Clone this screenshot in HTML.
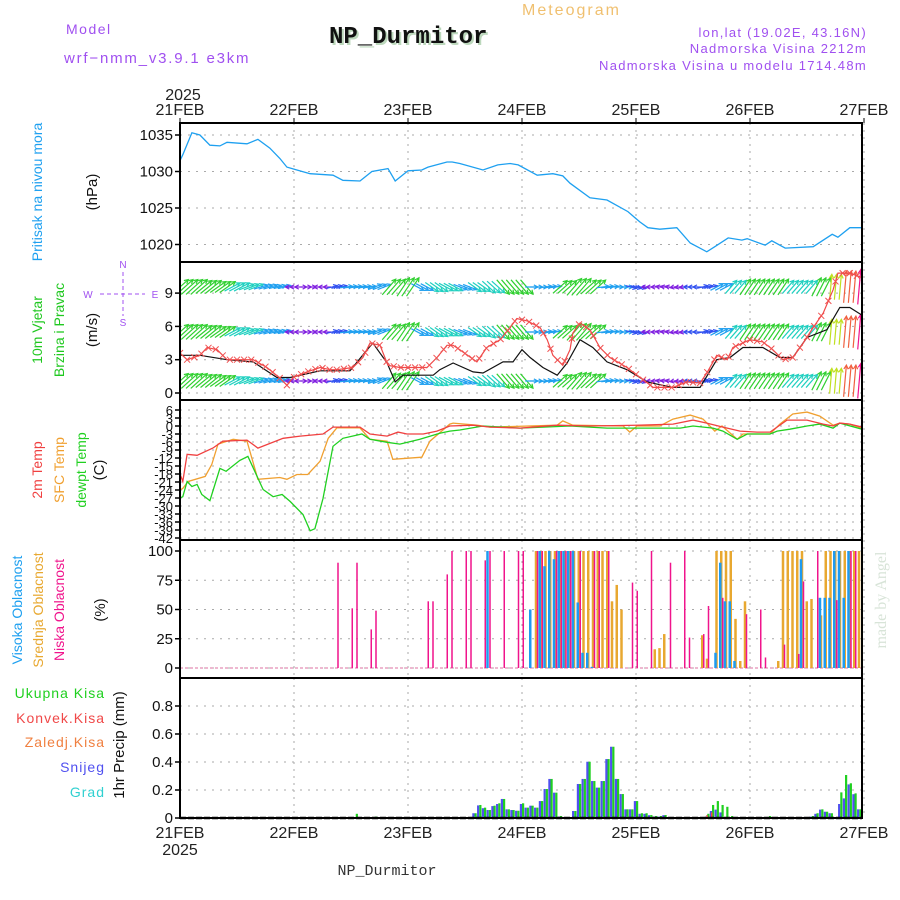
<!DOCTYPE html>
<html><head><meta charset="utf-8"><style>
html,body{margin:0;padding:0;background:#fff;}
svg{display:block;font-family:"Liberation Sans",sans-serif;}
</style></head><body>
<svg id="chart" width="900" height="900" viewBox="0 0 900 900" xmlns="http://www.w3.org/2000/svg">
<text x="66" y="34" font-size="14" fill="#a050f0" letter-spacing="1.5">Model</text>
<text x="64" y="63" font-size="15" fill="#a050f0" letter-spacing="1.8">wrf−nmm_v3.9.1 e3km</text>
<text x="522" y="15" font-size="16" fill="#f0c070" letter-spacing="2">Meteogram</text>
<text x="331" y="45" font-size="24" font-weight="bold" fill="#bcd8bc" font-family="Liberation Mono, monospace">NP_Durmitor</text>
<text x="329" y="43" font-size="24" font-weight="bold" fill="#111" font-family="Liberation Mono, monospace">NP_Durmitor</text>
<text x="867" y="37" font-size="13" fill="#a050f0" text-anchor="end" letter-spacing="1.3">lon,lat (19.02E, 43.16N)</text>
<text x="867" y="53" font-size="13" fill="#a050f0" text-anchor="end" letter-spacing="1.3">Nadmorska Visina 2212m</text>
<text x="867" y="70" font-size="13" fill="#a050f0" text-anchor="end" letter-spacing="1.3">Nadmorska Visina u modelu 1714.48m</text>
<text x="183" y="100" font-size="16" fill="#222" text-anchor="middle">2025</text>
<text x="180" y="855" font-size="16" fill="#222" text-anchor="middle">2025</text>
<text x="387" y="875" font-size="15" fill="#333" text-anchor="middle" font-family="Liberation Mono, monospace">NP_Durmitor</text>
<text transform="translate(886,600) rotate(-90)" font-size="16" fill="#d8e4d8" text-anchor="middle" font-family="Liberation Serif, serif">made by Angel</text>

<text transform="translate(42,192) rotate(-90)" font-size="14" fill="#1ea0f0" text-anchor="middle">Pritisak na nivou mora</text>
<text transform="translate(97,192) rotate(-90)" font-size="15" fill="#111" text-anchor="middle">(hPa)</text>
<text transform="translate(42,330) rotate(-90)" font-size="14" fill="#20c820" text-anchor="middle">10m Vjetar</text>
<text transform="translate(64,330) rotate(-90)" font-size="14" fill="#20c820" text-anchor="middle">Brzina i Pravac</text>
<text transform="translate(97,330) rotate(-90)" font-size="15" fill="#111" text-anchor="middle">(m/s)</text>
<g fill="#a050f0" font-size="10" text-anchor="middle">
<text x="123" y="268">N</text><text x="123" y="326">S</text><text x="88" y="298">W</text><text x="155" y="298">E</text>
<line x1="100" y1="294" x2="145" y2="294" stroke="#a050f0" stroke-dasharray="4,3"/><line x1="123" y1="272" x2="123" y2="316" stroke="#a050f0" stroke-dasharray="4,3"/>
</g>
<text transform="translate(42,470) rotate(-90)" font-size="14" fill="#f04040" text-anchor="middle">2m Temp</text>
<text transform="translate(64,470) rotate(-90)" font-size="14" fill="#f0a030" text-anchor="middle">SFC Temp</text>
<text transform="translate(86,470) rotate(-90)" font-size="14" fill="#20d020" text-anchor="middle">dewpt Temp</text>
<text transform="translate(104,470) rotate(-90)" font-size="15" fill="#111" text-anchor="middle">(C)</text>
<text transform="translate(22,610) rotate(-90)" font-size="14" fill="#1ea0f0" text-anchor="middle">Visoka Oblacnost</text>
<text transform="translate(43,610) rotate(-90)" font-size="14" fill="#e8a830" text-anchor="middle">Srednja Oblacnost</text>
<text transform="translate(64,610) rotate(-90)" font-size="14" fill="#f0148c" text-anchor="middle">Niska Oblacnost</text>
<text transform="translate(105,610) rotate(-90)" font-size="15" fill="#111" text-anchor="middle">(%)</text>
<g font-size="14" text-anchor="end" letter-spacing="1">
<text x="105" y="698" fill="#20d020">Ukupna  Kisa</text>
<text x="105" y="723" fill="#f04848">Konvek.Kisa</text>
<text x="105" y="747" fill="#f08040">Zaledj.Kisa</text>
<text x="105" y="772" fill="#5050f0">Snijeg</text>
<text x="105" y="797" fill="#30d0d0">Grad</text>
</g>
<text transform="translate(124,745) rotate(-90)" font-size="15" fill="#111" text-anchor="middle">1hr Precip (mm)</text>
<g id="plots"></g>
</svg>
<script>
// ---- data ----
const dayLabels = ["21FEB","22FEB","23FEB","24FEB","25FEB","26FEB","27FEB"];
const presHours = [0,0.6,2.5,4.2,6.3,8.4,9.9,14.1,16.4,18.9,21,22.5,24.6,27.4,32.2,34.3,37.9,40.4,43.8,45.3,48,50.9,52.2,56.2,57.3,58.9,63.8,66.9,69.5,71.2,75.2,78.5,80.6,82.1,86.3,89.9,94.3,96.8,98.5,101,104.6,107.4,110.9,112.6,115.4,118.3,119.4,123.2,124.6,127.4,133.3,137.3,138.5,141,143.6];
const presVals = [1031.5,1032.3,1035.3,1035,1033.6,1033.5,1034,1033.8,1034.4,1033.2,1031.8,1030.6,1030.2,1029.7,1029.5,1028.8,1028.7,1030,1030.4,1028.7,1030.1,1030.2,1030.6,1031.3,1031.3,1031.1,1030.2,1030.9,1031.1,1030.9,1029.5,1029.7,1029.4,1028.4,1026.4,1026.1,1024.5,1023.1,1022.3,1022.1,1022.3,1020.2,1019,1019.7,1020.9,1020.6,1020.8,1019.9,1020.5,1019.5,1019.7,1021.4,1021,1022.3,1022.3];
const presTicks = [1035,1030,1025,1020];

const gustHours = [0,1.5,4.2,5.7,7.8,9.9,15.4,18.3,21,22.5,23.8,26.7,29.5,31.6,33,36.4,38.5,40,42.1,43.8,46.3,52,54.1,56.2,57.5,58.9,62.5,64.6,67.4,69.5,70.9,73.1,75.8,77.3,78.5,80.6,82.1,82.7,84.2,86.3,88.4,90.5,94.1,97.5,99.6,103.8,106.7,109.5,110.9,113,115.2,116.4,120,122.7,124.8,126.9,129,131.2,133.3,135.4,137.5,138.5,141,143.6];
const gustVals = [3.6,3,3.4,4.1,3.9,3,3,2.3,1.35,0.7,1.4,1.9,2.3,2.1,2.1,2.3,3.2,4.5,4.3,2.5,2.3,2.3,3.2,4.3,4.3,3.9,2.8,4.1,4.8,5.9,6.7,6.5,5.9,4.8,3.4,2.5,3.9,5.4,6.3,5.7,4.1,3.2,2.3,1.2,0.5,0.5,1,0.9,1.8,3.4,3,4.1,4.8,4.6,3.9,3,3.2,4.5,5.9,7.2,9.3,10.8,10.8,10.4];
const speedHours = [0,4.2,9.9,15.4,20.4,23.2,29.5,35.8,39.4,40.6,43.6,45.3,46.9,53.3,54.7,57.5,61.7,63.8,68,70.1,72,73.7,76.4,79.4,81.5,84.2,86.9,89.9,94.1,98.3,103.8,109.5,113,115.8,118.5,122.7,126.3,129,132,136.2,138.9,141,143.6];
const speedVals = [3.4,3.4,3.0,2.8,1.4,1.4,2.0,2.0,3.9,4.5,2.7,1.0,1.6,1.6,2.1,2.7,1.9,1.8,2.8,2.8,3.9,3.2,2.3,1.6,2.7,4.8,4.1,2.8,2.1,1.0,0.5,0.5,3.0,3.2,4.1,4.1,3.2,3.2,5.0,5.7,7.7,7.7,7.0];
const windTicks = [9,6,3,0];
// wind arrows every 3 h: speed (m/s) and arrow angle (deg, 0 = towards east, 90 = towards north)
const arrowSpeed = [6,6,5.5,5,4.5,4,3.5,3,1.5,1,1.5,2.5,3,3,3.5,5.5,6,3.5,4,4,3.5,4,4.5,5,5,3,3,5,6,5.5,3,3,2.5,1.5,1.5,1.5,2,2.5,3.5,4.5,5,5,5,4.5,4.5,5.5,7,9,10];
const arrowAngle = [30,30,28,25,20,15,12,10,180,0,180,10,5,5,15,35,40,-20,-25,-20,-15,-25,-30,-35,-35,0,5,30,35,30,5,0,-10,180,170,190,180,10,20,35,40,40,40,35,35,45,70,80,80];

const t2Hours = [0,0.6,1.5,3.6,6.9,9,14.1,16.4,21.7,25.3,30.1,32.2,37.9,40,43.6,45.9,47.8,51.2,54.1,56.8,61.7,65.3,71.6,79.4,86.3,96.8,103.8,108,110.9,114.3,117.9,121.5,124.2,127.8,132,135.4,137.5,138.9,141,143.6];
const t2Vals = [-18,-20.8,-10.6,-11,-8.3,-5.7,-5.3,-8.3,-4.6,-3.8,-3,-0.4,-0.4,-3,-3.8,-2.3,-3,-3,-1.9,0,0.3,-0.4,-0.8,0.3,0,0.3,0.7,2.2,1.1,-0.4,-1.9,-2.3,-2.3,2.2,2.2,0.7,0,1.1,0.7,-0.4];
const sfcHours = [0,0.6,1.7,5.3,6.7,8,11.2,14.1,16.4,21,22.5,24.6,26.9,29.5,31.2,33,37.9,40,43.6,44.8,50.9,52.6,56.8,57.5,62.5,65.3,79.4,80.6,82.7,93.3,94.7,96.2,101,103.8,107.4,110.1,112.6,114.1,117.3,118.5,124.2,126.3,129,132,134.7,137.5,138.9,141,143.6];
const sfcVals = [-24,-23.4,-20.8,-18.9,-14.4,-6.8,-5,-5.7,-20,-19.3,-20,-18.2,-18.2,-13.2,-4.6,-0.7,-0.7,-5,-5.7,-12.5,-11.7,-5.7,0.7,1.1,0.3,-0.4,0.3,1.9,0.3,0,-2.3,0,0,2.6,4.1,2.6,-1.9,0,-5,-3,-3,0.7,4.5,5.2,3.7,0.3,1.1,0.7,-0.8];
const dewHours = [0,0.6,1.5,2.5,3.6,4.6,6.3,8.4,9.7,12.6,14.3,17.5,19.6,21.5,23.2,25.9,27.4,28.4,30.1,32.2,34.3,38.3,40,43.6,46.3,50.5,54.7,56.8,58.9,63.8,71.6,82.1,89.9,105.3,108,112.2,114.3,117.3,119.4,124.2,125.7,128.4,132,134.7,137.5,138.9,143.6];
const dewVals = [-27,-26.5,-20.8,-22.7,-21.9,-25.7,-28,-15.9,-17,-12.9,-11.4,-23.8,-26.5,-25.7,-28.3,-33.2,-39.3,-38.5,-27.2,-7.6,-4.6,-3,-5,-6.1,-6.8,-5,-2.7,-1.9,-1.5,0,-0.8,0,-0.8,-0.8,0,-0.8,-1.9,-5,-3,-3,-1.9,-1.2,0,0.7,-0.8,1.1,-1.2];
const tempTicks = [6,3,0,-3,-6,-9,-12,-15,-18,-21,-24,-27,-30,-33,-36,-39,-42];

const lowHours = [33,36,37,40,41,52,53,56,57,60,61,64,65,68,71,72,75,76,79,80,81,82,84,87,88,90,95,96,99,103,106,107,110,111,114,119,122,123,127,130,131,134,138,141,142];
const lowVals = [90,51,90,33,49,57,57,80,100,100,100,92,100,100,100,100,100,100,100,100,100,100,100,100,100,100,73,66,100,90,100,26,29,53,60,46,50,9,20,12,74,100,58,100,100];
const midHours = [75,76,77,78,79,80,81,82,83,84,85,86,87,88,89,90,91,92,93,100,101,102,110,111,113,114,115,116,117,118,119,126,127,128,129,130,131,132,133,135,136,137,138,139,140,141,142,143,144];
const midVals = [100,100,100,100,100,100,100,100,100,100,100,100,100,100,100,100,57,71,50,16,17,29,28,8,100,100,100,100,42,6,57,6,100,100,100,100,100,57,59,45,100,100,100,100,100,100,100,100,100];
const highHours = [65,74,76,77,78,79,80,81,82,83,84,85,86,87,113,114,115,116,117,131,135,136,137,138,139,140,141,144];
const highVals = [100,50,100,87,100,93,100,100,100,100,56,13,13,1,13,90,57,57,6,93,60,60,60,100,100,60,100,100];
const cloudTicks = [100,75,50,25,0];

const precipHours = [37,41,62,63,64,65,66,67,68,69,70,71,72,73,74,75,76,77,78,79,80,83,84,85,86,87,88,89,90,91,92,93,94,95,96,97,98,99,100,101,102,111,112,113,114,115,116,124,133,134,135,136,137,139,140,141,142,143,144];
const totalVals = [0.03,0.01,0.034,0.093,0.074,0.057,0.088,0.105,0.136,0.062,0.057,0.052,0.105,0.074,0.088,0.074,0.121,0.207,0.279,0.181,0.014,0.05,0.243,0.279,0.402,0.264,0.217,0.264,0.421,0.509,0.279,0.171,0.062,0.062,0.121,0.034,0.034,0.021,0.014,0.014,0.021,0.03,0.093,0.121,0.093,0.08,0.014,0.014,0.014,0.034,0.062,0.045,0.034,0.183,0.307,0.248,0.176,0.062,0.045];
const snowVals = [0,0,0.034,0.09,0.07,0.057,0.085,0.1,0.136,0.062,0.057,0.052,0.1,0.074,0.088,0.074,0.121,0.207,0.279,0.181,0.01,0.05,0.243,0.279,0.402,0.264,0.217,0.264,0.421,0.509,0.279,0.171,0.062,0.062,0.121,0.03,0.03,0.02,0.01,0.01,0.02,0.01,0.05,0.06,0.04,0,0,0,0.01,0.03,0.06,0.045,0.034,0.1,0.14,0.24,0.17,0.062,0.045];
const convHours = [111,112];
const convVals = [0.02,0.04];
const precipTicks = [0.8,0.6,0.4,0.2,0];

// ---- axes ----
const X0 = 180, X1 = 862, HRS = 144;
const xs = h => X0 + h * (X1 - X0 + 2) / HRS;
const presY = v => 135 + (1035 - v) * 7.3;
const windY = v => 393 - v * 11.1;
const tempY = v => 410 + (6 - v) * 8 / 3;
const cloudY = v => 668 - v * 1.17;
const precY = v => 818 - v * 140;
const panels = [
  {name:"pressure-panel", top:123, bottom:262},
  {name:"wind-panel", top:262, bottom:400},
  {name:"temperature-panel", top:400, bottom:540},
  {name:"cloud-panel", top:540, bottom:678},
  {name:"precip-panel", top:678, bottom:818}
];
const NS = "http://www.w3.org/2000/svg";
const plots = document.getElementById("plots");
function mk(tag, attrs, parent) {
  const e = document.createElementNS(NS, tag);
  for (const k in attrs) e.setAttribute(k, attrs[k]);
  (parent || plots).appendChild(e);
  return e;
}
function grp(name) {
  const g = mk("g", {});
  
  
  return g;
}

const defs = mk("defs", {});
panels.forEach((p, i) => {
  const cp = mk("clipPath", {id: "clip" + i}, defs);
  mk("rect", {x: X0, y: p.top, width: X1 - X0, height: p.bottom - p.top}, cp);
});

const gridG = grp("grid-lines");
panels.forEach(p => {
  for (let d = 1; d < 7; d++) {
    const x = xs(d * 24);
    mk("line", {x1: x, x2: x, y1: p.top, y2: p.bottom, stroke: "#aaa", "stroke-dasharray": "2,5"}, gridG);
  }
});
function hgrid(ticks, fy, lblName, fmt, fs) {
  const g = grp(lblName);
  ticks.forEach(t => {
    const y = fy(t);
    mk("line", {x1: X0, x2: X1, y1: y, y2: y, stroke: "#aaa", "stroke-dasharray": "2,6"}, gridG);
    mk("line", {x1: X0 - 5, x2: X0, y1: y, y2: y, stroke: "#000", "stroke-width": 1.5}, g);
    const tx = mk("text", {x: X0 - 7, y: y + 5, "font-size": fs || 15, "text-anchor": "end", fill: "#111"}, g);
    tx.textContent = fmt ? fmt(t) : t;
  });
}
hgrid(presTicks, presY, "pressure-y-ticks");
hgrid(windTicks, windY, "wind-y-ticks");
hgrid(tempTicks, tempY, "temp-y-ticks", null, 13);
hgrid(cloudTicks, cloudY, "cloud-y-ticks");
hgrid(precipTicks, precY, "precip-y-ticks", t => t === 0 ? "0" : t.toFixed(1));

const xl = grp("x-axis-labels");
dayLabels.forEach((d, i) => {
  const x = xs(i * 24);
  let t = mk("text", {x: x, y: 115, "font-size": 16, "text-anchor": "middle", fill: "#222"}, xl);
  t.textContent = d;
  t = mk("text", {x: x, y: 838, "font-size": 16, "text-anchor": "middle", fill: "#222"}, xl);
  t.textContent = d;
  mk("line", {x1: x, x2: x, y1: 118, y2: 123, stroke: "#000"}, xl);
});

function line(hours, vals, fy, color, name, clipI, w) {
  const pts = hours.map((h, i) => xs(h).toFixed(1) + "," + fy(vals[i]).toFixed(1)).join(" ");
  const pl = mk("polyline", {points: pts, fill: "none", stroke: color, "stroke-width": w || 1.3, "clip-path": "url(#clip" + clipI + ")"});
  
  
  return pl;
}
line(presHours, presVals, presY, "#1ea0f0", "pressure-line", 0);

function arrowColor(s) {
  const stops = [[0,"#8020e0"],[2,"#3050f0"],[3,"#20a0f0"],[4,"#20d0c0"],[5,"#30d030"],[6.5,"#c0e020"],[7.5,"#e8c020"],[8.5,"#f06040"],[10,"#f0148c"]];
  for (let i = stops.length - 1; i >= 0; i--) if (s >= stops[i][0]) return stops[i][1];
  return stops[0][1];
}
const rows = [287, 332, 381];
const arrowsG = grp("wind-arrows");
arrowsG.setAttribute("clip-path", "url(#clip1)");
rows.forEach((base, ri) => {
  arrowSpeed.forEach((s, i) => {
    for (let k = 0; k < 3; k++) {
      const h = i * 3 + k - 1;
      if (h < 0 || h > 144) continue;
      const L = 3 + s * 3.2;
      let ang = arrowAngle[i];
      if (Math.abs(ang) < 90) ang = Math.max(-85, Math.min(85, ang * 1.4));
      const a = ang * Math.PI / 180;
      const dx = Math.cos(a) * L, dy = -Math.sin(a) * L;
      const cx = xs(h), x1 = cx - dx / 2, y1 = base - dy / 2, x2 = cx + dx / 2, y2 = base + dy / 2;
      const c = arrowColor(s);
      const g = mk("g", {stroke: c, "stroke-width": 1.2, fill: "none"}, arrowsG);
      
      
      mk("line", {x1: x1, y1: y1, x2: x2, y2: y2}, g);
      const hl = 4.5, aa = Math.atan2(y2 - y1, x2 - x1);
      mk("polyline", {points: (x2 - hl * Math.cos(aa - 0.5)) + "," + (y2 - hl * Math.sin(aa - 0.5)) + " " + x2 + "," + y2 + " " + (x2 - hl * Math.cos(aa + 0.5)) + "," + (y2 - hl * Math.sin(aa + 0.5))}, g);
    }
  });
});
line(speedHours, speedVals, windY, "#111", "wind-speed-line", 1, 1.2);
line(gustHours, gustVals, windY, "#f04848", "wind-gust-line", 1, 1.2);
const gm = grp("wind-gust-markers");
gm.setAttribute("clip-path", "url(#clip1)");
for (let h = 0; h <= 144; h += 1.5) {
  let j = 0;
  while (j < gustHours.length - 2 && gustHours[j + 1] < h) j++;
  const f = Math.min(1, Math.max(0, (h - gustHours[j]) / (gustHours[j + 1] - gustHours[j])));
  const v = gustVals[j] + f * (gustVals[j + 1] - gustVals[j]);
  const x = xs(h), y = windY(v);
  mk("path", {d: `M${x-3},${y-3}L${x+3},${y+3}M${x-3},${y+3}L${x+3},${y-3}`, stroke: "#f05050", "stroke-width": 1}, gm);
}

line(sfcHours, sfcVals, tempY, "#f0a030", "sfc-temp-line", 2);
line(dewHours, dewVals, tempY, "#20d020", "dewpoint-line", 2);
line(t2Hours, t2Vals, tempY, "#f04040", "temp-2m-line", 2);

mk("line", {x1: X0, x2: X1, y1: cloudY(0), y2: cloudY(0), stroke: "#e8a0c0", "stroke-width": 1.5, "stroke-dasharray": "3,2"});
function bars(hours, vals, fy, color, w, off, name, clipI) {
  const g = grp(name);
  g.setAttribute("clip-path", "url(#clip" + clipI + ")");
  hours.forEach((h, i) => {
    if (vals[i] <= 0) return;
    const y = fy(vals[i]), y0 = fy(0);
    const r = mk("rect", {x: xs(h) + off, y: y, width: w, height: Math.max(0.8, y0 - y), fill: color}, g);
    
    
  });
}
bars(midHours, midVals, cloudY, "#e8a830", 2.5, -1.5, "mid-cloud", 3);
bars(highHours, highVals, cloudY, "#1e9bf0", 2.5, -2.5, "high-cloud", 3);
bars(lowHours, lowVals, cloudY, "#f0148c", 1.5, 0.5, "low-cloud", 3);

bars(precipHours, snowVals, precY, "#5050f0", 2.2, -2.2, "snow", 4);
bars(precipHours, totalVals, precY, "#20d020", 2.2, 0, "total-precip", 4);
bars(convHours, convVals, precY, "#f04848", 1.5, -1, "convective-precip", 4);

panels.forEach(p => {
  const r = mk("rect", {x: X0, y: p.top, width: X1 - X0, height: p.bottom - p.top, fill: "none", stroke: "#000", "stroke-width": 2});
  
  
});
mk("line", {x1: X0, x2: X1, y1: 818, y2: 818, stroke: "#000", "stroke-width": 2.5, "stroke-dasharray": "6,2"});
</script>
</body></html>
